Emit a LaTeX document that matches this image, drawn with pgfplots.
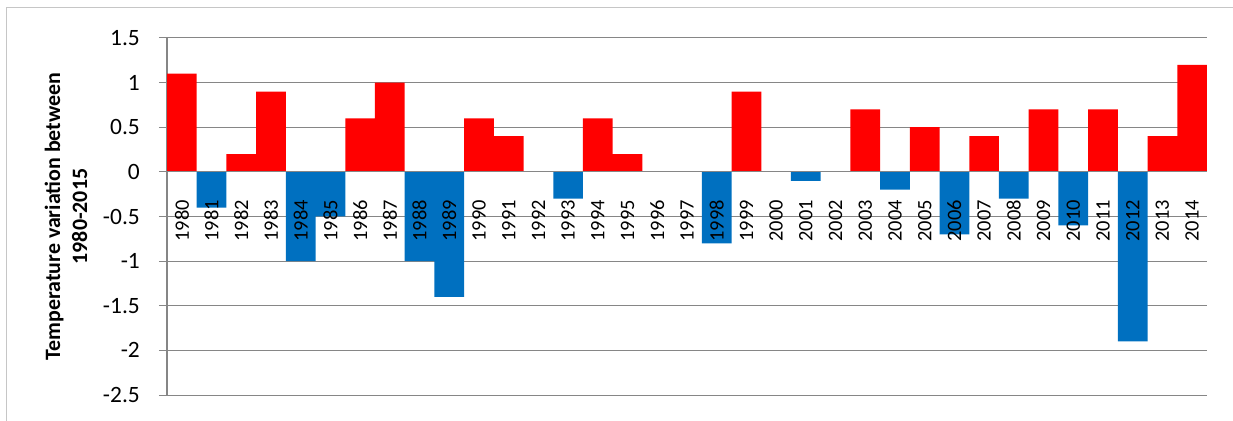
\documentclass[border=0pt]{standalone}
\usepackage{fontspec}
\setmainfont{Carlito}
\usepackage{pgfplots}
\pgfplotsset{compat=1.18}
\definecolor{barred}{HTML}{FF0000}
\definecolor{barblue}{HTML}{0070C0}
\definecolor{gridgray}{HTML}{868686}
\pgfplotsset{
  common/.style={
    at={(0,0)}, anchor=south west,
    scale only axis, width=1040bp, height=357bp,
    xmin=-0.5, xmax=34.5, ymin=-2.5, ymax=1.5,
    axis y line*=left, axis x line*=middle,
    axis line style={gridgray, line width=1bp},
    ytick={-2.5,-2,-1.5,-1,-0.5,0,0.5,1,1.5},
    tick align=outside,
    major tick length=8bp, minor tick length=6bp,
    ytick style={gridgray, line width=1bp},
    xtick={0,...,34},
    xtick style={draw=none},
    minor xtick={-0.5,0.5,...,34.5},
    minor x tick style={gridgray, line width=1bp},
  }
}
\begin{document}
\begin{tikzpicture}
\useasboundingbox (-167bp,-26bp) rectangle (1066bp,395bp);
\draw[gray!45, line width=1bp] (-160bp,-30bp) -- (-160bp,387bp) -- (1070bp,387bp);
\begin{axis}[
  common,
  ymajorgrids, grid style={gridgray, line width=1bp},
  xticklabels={}, yticklabels={},
]
\addplot[ybar, bar width=1, bar shift=0pt, fill=barred, draw=none] coordinates {
(0,1.1)(2,0.2)(3,0.9)(6,0.6)(7,1.0)(10,0.6)(11,0.4)(12,0)(14,0.6)(15,0.2)(16,0)(17,0)(19,0.9)(20,0)(22,0)(23,0.7)(25,0.5)(27,0.4)(29,0.7)(31,0.7)(33,0.4)(34,1.2)};
\addplot[ybar, bar width=1, bar shift=0pt, fill=barblue, draw=none] coordinates {
(1,-0.4)(4,-1.0)(5,-0.5)(8,-1.0)(9,-1.4)(13,-0.3)(18,-0.8)(21,-0.1)(24,-0.2)(26,-0.7)(28,-0.3)(30,-0.6)(32,-1.9)};
\end{axis}
\begin{axis}[
  common,
  xticklabels={1980,1981,1982,1983,1984,1985,1986,1987,1988,1989,1990,1991,1992,1993,1994,1995,1996,1997,1998,1999,2000,2001,2002,2003,2004,2005,2006,2007,2008,2009,2010,2011,2012,2013,2014},
  xticklabel style={rotate=90, anchor=east, inner sep=0pt, font=\fontsize{20.5}{20.5}\selectfont},
  xticklabel shift=20bp,
  yticklabel style={anchor=east, inner sep=0pt, font=\fontsize{23.5}{23.5}\selectfont, /pgf/number format/assume math mode=true},
  yticklabel shift=19bp,
  ylabel={Temperature variation between\\1980-2015},
  y label style={at={(axis description cs:-0.0971,0.5)}, anchor=center, rotate=0, align=center, font=\bfseries\fontsize{22}{27}\selectfont},
]
\end{axis}
\end{tikzpicture}
\end{document}
